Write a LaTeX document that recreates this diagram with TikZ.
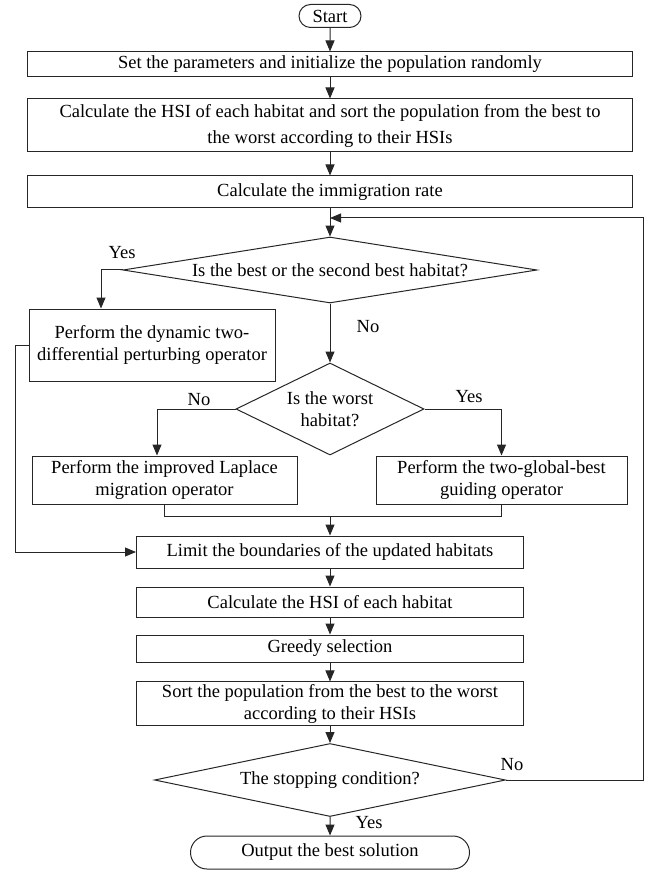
\documentclass[tikz,border=0pt]{standalone}
\usepackage{fontspec}
\setmainfont{Liberation Serif}
\usetikzlibrary{shapes.geometric,shapes.misc,arrows.meta}
\newcommand\flowfont{\fontsize{18.5}{22}\selectfont}
\begin{document}
\begin{tikzpicture}[x=1pt,y=-1pt,
  every node/.style={font=\flowfont, text=black},
  procbox/.style={draw=black!85, line width=1pt, rectangle, inner sep=2pt, align=center},
  termbox/.style={draw=black!85, line width=1pt, rounded rectangle, inner sep=2pt, align=center},
  decbox/.style={draw=black!85, line width=1pt, diamond, inner sep=0pt, align=center},
  conn/.style={draw=black!85, line width=1pt},
  arr/.style={conn, -{Triangle[length=11pt,width=9pt]}},
  lbl/.style={inner sep=0pt}]
\useasboundingbox (0,0) rectangle (650,874);

\node[termbox, minimum width=66pt, minimum height=23pt] (start) at (330,16) {Start};
\node[procbox, minimum width=605pt, minimum height=25pt] (b1) at (330,64.5) {Set the parameters and initialize the population randomly};
\node[procbox, minimum width=605pt, minimum height=53pt] (b2) at (330,125.5) {Calculate the HSI of each habitat and sort the population from the best to\\[4pt]the worst according to their HSIs};
\node[procbox, minimum width=605pt, minimum height=32pt] (b3) at (330,192) {Calculate the immigration rate};
\node[decbox, aspect=6.27, minimum width=414pt, minimum height=66pt] (d1) at (330,270) {Is the best or the second best habitat?};
\node[procbox, minimum width=246pt, minimum height=72pt] (dyn) at (152,345) {Perform the dynamic two-\\differential perturbing operator};
\node[decbox, aspect=2.04, minimum width=188pt, minimum height=92pt] (d2) at (330,409) {Is the worst\\habitat?};
\node[procbox, minimum width=265pt, minimum height=48pt] (lap) at (164.5,480) {Perform the improved Laplace\\migration operator};
\node[procbox, minimum width=251pt, minimum height=48pt] (glob) at (501.5,480) {Perform the two-global-best\\guiding operator};
\node[procbox, minimum width=387pt, minimum height=32pt] (lim) at (330,552) {Limit the boundaries of the updated habitats};
\node[procbox, minimum width=387pt, minimum height=30pt] (hsi) at (330,602) {Calculate the HSI of each habitat};
\node[procbox, minimum width=387pt, minimum height=27pt] (greedy) at (330,648.5) {Greedy selection};
\node[procbox, minimum width=387pt, minimum height=43pt] (sort) at (330,703.5) {Sort the population from the best to the worst\\according to their HSIs};
\node[decbox, aspect=4.81, minimum width=351pt, minimum height=73pt] (d3) at (330,780) {The stopping condition?};
\node[termbox, minimum width=283pt, minimum height=33pt] (out) at (330,852.5) {Output the best solution};

\node[lbl] (yes1) at (122,253) {Yes};
\node[lbl] (no1) at (368,327) {No};
\node[lbl] (no2) at (199,400) {No};
\node[lbl] (yes2) at (469,397) {Yes};
\node[lbl] (no3) at (512,765) {No};
\node[lbl] (yes3) at (369,823) {Yes};

\coordinate (yesx) at (101,0);
\coordinate (nox) at (157,0);
\coordinate (loopR) at (643,218);
\coordinate (merge) at (330,516);

\draw[arr] (start) -- (b1);
\draw[arr] (b1) -- (b2);
\draw[arr] (b2) -- (b3);
\draw[arr] (b3) -- (d1);
\draw[arr] (d1.west) -| (yesx |- dyn.north);
\draw[arr] (d1.south) -- (d2.north);
\draw[arr] (d2.west) -| (nox |- lap.north);
\draw[arr] (d2.east) -| (glob.north);
\draw[conn] (lap.south) |- (merge);
\draw[conn] (glob.south) |- (merge);
\draw[arr] (merge) -- (lim.north);
\draw[arr] (dyn.west) -- ++(-13,0) |- (lim.west);
\draw[arr] (lim) -- (hsi);
\draw[arr] (hsi) -- (greedy);
\draw[arr] (greedy) -- (sort);
\draw[arr] (sort) -- (d3);
\draw[arr] (d3) -- (out);
\draw[arr] (d3.east) -| (loopR) -- (loopR -| d1.north);
\end{tikzpicture}
\end{document}
